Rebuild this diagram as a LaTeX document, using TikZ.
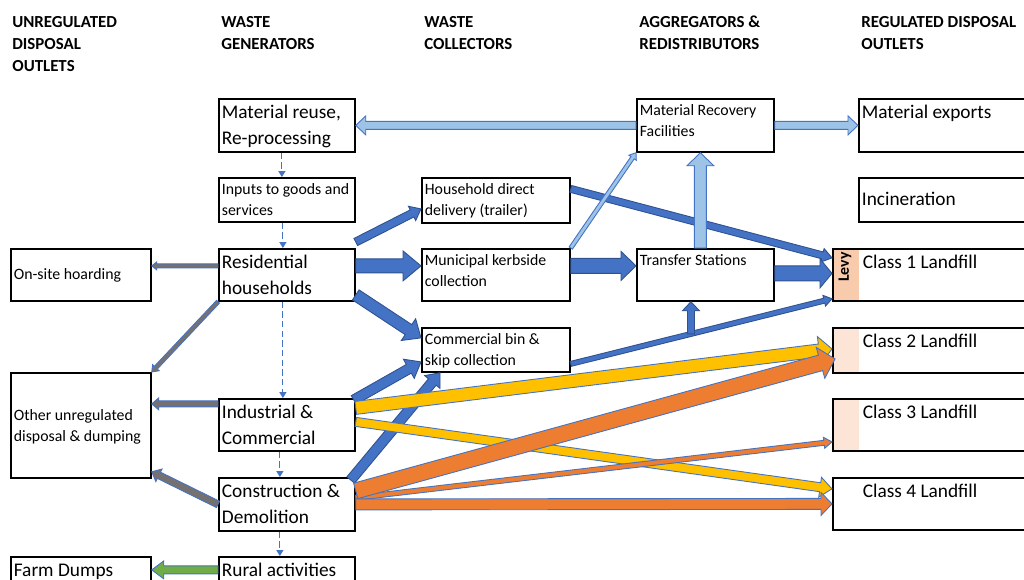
\documentclass[tikz,border=0pt]{standalone}
\usepackage{fontspec}
\setmainfont{Carlito}
\usetikzlibrary{arrows.meta,calc}

\newdimen\px \px=0.02cm

\definecolor{darkblue}{HTML}{4472C4}
\definecolor{edgeblue}{HTML}{2F528F}
\definecolor{paleblue}{HTML}{9DC3E6}
\definecolor{gold}{HTML}{FFC000}
\definecolor{rust}{HTML}{ED7D31}
\definecolor{slate}{HTML}{767171}
\definecolor{leaf}{HTML}{70AD47}
\definecolor{levyfill}{HTML}{F8CBAD}
\definecolor{levylight}{HTML}{FCE4D6}

\tikzset{
  >=Stealth,
  box/.style={draw, line width=1pt, anchor=north west, inner xsep=3\px, inner ysep=1.5\px},
  big/.style={font=\fontsize{11}{14.8}\selectfont},
  small/.style={font=\fontsize{9}{12}\selectfont},
  head/.style={anchor=base west, inner sep=0pt, font=\fontsize{9.6}{12.5}\selectfont\bfseries},
  levy/.style={path picture={\fill[#1] (path picture bounding box.north west)
      rectangle ([xshift=26\px]path picture bounding box.south west);}},
  flow/.style={line width=0.5pt, draw=edgeblue, fill=darkblue},
  pale/.style={draw=darkblue, fill=paleblue},
  yellow/.style={draw=darkblue, fill=gold},
  orange/.style={draw=darkblue, fill=rust},
  grey/.style={draw=darkblue, fill=slate},
  green/.style={draw=darkblue, fill=leaf},
  feed/.style={darkblue, line width=0.6pt, dash pattern=on 3.5pt off 2pt,
    -{Triangle[width=4pt,length=3.4pt]}},
}

% text block of a box: {inner width}{inner height}{t or c}{text}, in px
\newcommand\inbox[4]{\parbox[c][#2\px][#3]{#1\px}{\strut#4}}

% block arrow: [style]{from}{to}{half shaft}{half head}{head length}, in px
\newcommand\blockarrow[6][]{%
  \coordinate (ab) at ($(#3)!#6\px!(#2)$);
  \filldraw[flow,#1] ($(#2)!#4\px!90:(#3)$) -- ($(ab)!#4\px!90:(#3)$)
    -- ($(ab)!#5\px!90:(#3)$) -- (#3) -- ($(ab)!#5\px!-90:(#3)$)
    -- ($(ab)!#4\px!-90:(#3)$) -- ($(#2)!#4\px!-90:(#3)$) -- cycle;}

\begin{document}
\begin{tikzpicture}[x=0.02cm, y=-0.02cm]
\useasboundingbox (0,0) rectangle (1024,579);
\fill[white] (0,0) rectangle (1024,579);

% column headings
\node[head] (h-unreg) at (12,27.4) {\parbox[t]{150\px}{UNREGULATED\\DISPOSAL\\OUTLETS}};
\node[head] (h-gen) at (221,27.4) {\parbox[t]{150\px}{WASTE\\GENERATORS}};
\node[head] (h-col) at (424,27.4) {\parbox[t]{150\px}{WASTE\\COLLECTORS}};
\node[head] (h-agg) at (639,27.4) {\parbox[t]{170\px}{AGGREGATORS \&\\REDISTRIBUTORS}};
\node[head] (h-reg) at (861,27.4) {\parbox[t]{170\px}{REGULATED DISPOSAL\\OUTLETS}};

% unregulated outlets
\node[box, small] (onsite) at (10,248) {\inbox{134}{49}{c}{On-site hoarding}};
\node[box, small] (other) at (10,372) {\inbox{134}{102}{c}{Other unregulated\\disposal \& dumping}};
\node[box, big] (farm) at (10,556) {\inbox{134}{50}{t}{Farm Dumps}};

% generators
\node[box, big] (mat) at (218,98) {\inbox{130}{50}{t}{Material reuse,\\Re-processing}};
\node[box, small] (inp) at (218,177) {\inbox{130}{41}{t}{Inputs to goods and\\services}};
\node[box, big] (res) at (218,248) {\inbox{130}{49}{t}{Residential\\households}};
\node[box, big] (ind) at (218,398) {\inbox{130}{49}{t}{Industrial \&\\Commercial}};
\node[box, big] (con) at (218,477) {\inbox{130}{50}{t}{Construction \&\\Demolition}};
\node[box, big] (rur) at (218,556) {\inbox{130}{50}{t}{Rural activities}};

% collectors
\node[box, small] (hdd) at (421,177) {\inbox{142}{42}{t}{Household direct\\delivery (trailer)}};
\node[box, small] (kerb) at (421,248) {\inbox{142}{49}{t}{Municipal kerbside\\collection}};
\node[box, small] (cbin) at (421,327) {\inbox{142}{41}{t}{Commercial bin \&\\skip collection}};

% aggregators
\node[box, small] (mrf) at (636,98) {\inbox{131}{50}{t}{Material Recovery\\Facilities}};
\node[box, small] (ts) at (636,248) {\inbox{131}{49}{t}{Transfer Stations}};

% regulated outlets
\node[box, big] (exp) at (858,98) {\inbox{184}{50}{t}{Material exports}};
\node[box, big] (inc) at (858,177) {\inbox{184}{41}{c}{Incineration}};
\node[box, big, levy=levyfill] (cl1) at (832,248) {\inbox{210}{49}{t}{\hspace*{27\px}Class 1 Landfill}};
\node[box, big, levy=levylight] (cl2) at (832,327) {\inbox{210}{42}{t}{\hspace*{27\px}Class 2 Landfill}};
\node[box, big, levy=levylight] (cl3) at (832,398) {\inbox{210}{49}{t}{\hspace*{27\px}Class 3 Landfill}};
\node[box, big] (cl4) at (832,477) {\inbox{210}{49}{t}{\hspace*{27\px}Class 4 Landfill}};
\node[rotate=90, inner sep=0pt, font=\fontsize{9}{11}\selectfont\bfseries] (levytag)
  at ($(cl1.north west)+(13,19)$) {Levy};

% flows down the generator column
\draw[feed] ([xshift=-5\px]mat.south) -- ([xshift=-5\px]inp.north);
\draw[feed] ([xshift=-4\px]inp.south) -- ([xshift=-4\px]res.north);
\draw[feed] ([xshift=-4\px]res.south) -- ([xshift=-4\px]ind.north);
\draw[feed] ([xshift=-7\px]ind.south) -- ([xshift=-7\px]con.north);
\draw[feed] ([xshift=-7\px]con.south) -- ([xshift=-7\px]rur.north);

% collected waste
\blockarrow{[yshift=6\px]res.north east}{[yshift=-8.5\px]hdd.west}{4}{8}{10}
\blockarrow{[yshift=9\px]res.east}{[yshift=9\px]kerb.west}{7}{15}{18}
\blockarrow{[yshift=-20\px]res.east}{[yshift=12\px]cbin.west}{6}{13}{15}
\blockarrow{[xshift=-2\px,yshift=-2\px]ind.north east}{[yshift=-12\px]cbin.west}{5}{11}{14}
\blockarrow{[xshift=-5\px,yshift=-3\px]con.north east}{[xshift=19\px]cbin.south west}{5}{10}{12}
\blockarrow{[yshift=11.5\px]hdd.east}{[yshift=17\px]cl1.west}{3.5}{7}{10}
\blockarrow{[yshift=9\px]kerb.east}{[yshift=9\px]ts.west}{7.5}{14.5}{15}
\blockarrow{[yshift=1.5\px]ts.east}{[yshift=1.5\px]cl1.west}{7.5}{14.5}{12}
\coordinate (cb-l1) at ([yshift=-14\px]cbin.east);
\coordinate (l1-cb) at ([yshift=3\px]cl1.south west);
\coordinate (ts-feed) at ($(cb-l1)!0.46!(l1-cb)$);
\coordinate (ts-in) at (ts-feed |- ts.south);
\blockarrow{cb-l1}{l1-cb}{2.5}{5.5}{8}
\blockarrow{ts-feed}{ts-in}{3.5}{8.5}{9}

% recovered material
\blockarrow[pale]{[xshift=-5\px]ts.north}{[xshift=-5\px]mrf.south}{6}{13.5}{13}
\blockarrow[pale]{kerb.north east}{mrf.south west}{2}{4.5}{6}
\blockarrow[pale]{mrf.west}{mat.east}{4}{9.5}{10}
\blockarrow[pale]{mrf.east}{exp.west}{4}{9.5}{10}

% direct to landfill
\blockarrow[yellow]{[yshift=17\px]ind.east}{[yshift=1.5\px]cl2.west}{6.5}{14}{13}
\blockarrow[yellow]{[yshift=3\px]ind.east}{[yshift=15\px]cl4.west}{4.5}{10}{12}
\blockarrow[orange]{[yshift=6.5\px]con.east}{[yshift=-17\px]cl3.west}{2.5}{5.5}{8}
\blockarrow[orange]{[yshift=13.5\px]con.east}{[xshift=3\px,yshift=-8.5\px]cl2.west}{8}{16}{15}
\blockarrow[orange]{con.east}{cl4.west}{5.5}{11.5}{11}

% unregulated disposal
\blockarrow[grey]{[yshift=9\px]res.west}{[yshift=9\px]onsite.east}{2}{4}{5}
\blockarrow[grey]{res.south west}{other.north east}{2}{4.5}{6}
\blockarrow[grey]{[yshift=21\px]ind.west}{[yshift=21.5\px]other.east}{3}{6}{7}
\blockarrow[grey]{con.west}{[yshift=7\px]other.south east}{3.5}{7}{8}
\blockarrow[green]{[yshift=13.5\px]rur.west}{[yshift=13.5\px]farm.east}{4}{9}{12}
\end{tikzpicture}
\end{document}
